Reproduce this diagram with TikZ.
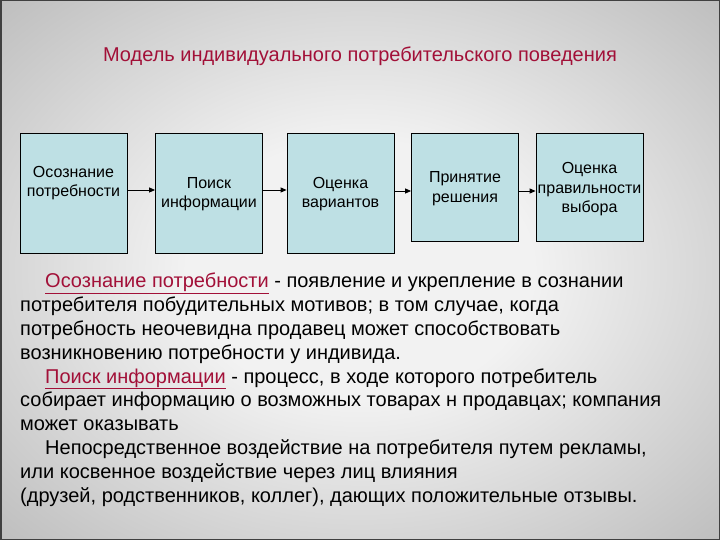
\documentclass[tikz,border=0pt]{standalone}
\usepackage{fontspec}
\setmainfont{Liberation Sans}
\usetikzlibrary{arrows.meta}
\definecolor{titlered}{RGB}{162,16,56}
\definecolor{boxfill}{RGB}{190,224,228}
\definecolor{bgin}{RGB}{242,242,242}
\definecolor{bgout}{RGB}{158,158,158}
\definecolor{bgcorner}{RGB}{145,145,145}
\pgfdeclareradialshading{slidebg}{\pgfpoint{0bp}{0bp}}{color(0bp)=(bgin); color(12bp)=(bgin); color(50bp)=(bgout); color(71bp)=(bgcorner)}
\tikzset{
  stagebox/.style={draw=black, line width=0.8pt, fill=boxfill, minimum width=107pt, inner sep=0pt},
  stagetext/.style={font=\fontsize{16}{19.5}\selectfont, align=center, inner sep=0pt},
  arr/.style={-{Triangle[length=6pt,width=5pt]}, line width=0.8pt, black},
}
\begin{document}
\begin{tikzpicture}[x=1pt,y=-1pt]
\useasboundingbox (0,0) rectangle (720,540);
\shade[shading=slidebg] (0,0) rectangle (720,540);
\draw[line width=1.5pt, black!75] (0.75,0.75) rectangle (719.25,539.25);

\node[font=\fontsize{20}{24}\selectfont, text=titlered, inner sep=0pt] (title) at (360,56) {Модель индивидуального потребительского поведения};

\node[stagebox, minimum height=120pt] (b1) at (73.5,193) {};
\node[stagebox, minimum height=120pt] (b2) at (209,193) {};
\node[stagebox, minimum height=120pt] (b3) at (340.5,193) {};
\node[stagebox, minimum height=108pt] (b4) at (465,187) {};
\node[stagebox, minimum height=108pt] (b5) at (589.5,187) {};

\node[stagetext] (t1) at (73.5,183) {Осознание\\потребности};
\node[stagetext] (t2) at (209,194) {Поиск\\информации};
\node[stagetext] (t3) at (340.5,194) {Оценка\\вариантов};
\node[stagetext] (t4) at (465,188.5) {Принятие\\решения};
\node[stagetext] (t5) at (589.5,189.5) {Оценка\\правильности\\выбора};

\draw[arr] ([yshift=3pt]b1.east) -- ([yshift=3pt]b2.west);
\draw[arr] ([yshift=3pt]b2.east) -- ([yshift=3pt]b3.west);
\draw[arr] ([yshift=2pt]b3.east) -- ([yshift=2pt]b3.east -| b4.west);
\draw[arr] ([yshift=-4pt]b4.east) -- ([yshift=-4pt]b5.west);

\node[anchor=north west, inner sep=0pt, align=left, font=\fontsize{20}{23.8}\selectfont] (body) at (20,273) {%
\hspace*{25pt}\textcolor{titlered}{\underline{Осознание потребности}} - появление и укрепление в сознании\\
потребителя побудительных мотивов; в том случае, когда\\
потребность неочевидна продавец может способствовать\\
возникновению потребности у индивида.\\
\hspace*{25pt}\textcolor{titlered}{\underline{Поиск информации}} - процесс, в ходе которого потребитель\\
собирает информацию о возможных товарах н продавцах; компания\\
может оказывать\\
\hspace*{25pt}Непосредственное воздействие на потребителя путем рекламы,\\
или косвенное воздействие через лиц влияния\\
(друзей, родственников, коллег), дающих положительные отзывы.};
\end{tikzpicture}
\end{document}
